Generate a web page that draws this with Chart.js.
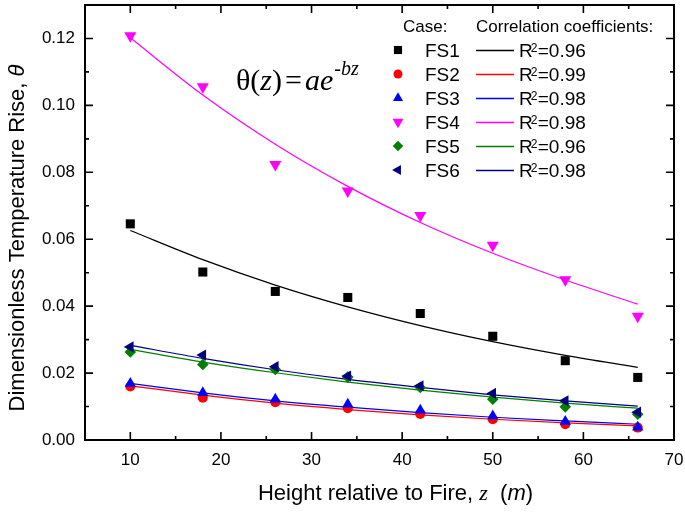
<!DOCTYPE html>
<html>
<head>
<meta charset="utf-8">
<script src="https://cdn.jsdelivr.net/npm/chart.js@4/dist/chart.umd.min.js"></script>
<style>
  html, body { margin: 0; padding: 0; background: #fff; }
  #wrap { width: 685px; height: 513px; }
</style>
</head>
<body>
<div id="wrap"><canvas id="chart" width="685" height="513"></canvas></div>
<script>
// measured heights above the fire source (m)
const heights = [10, 18, 26, 34, 42, 50, 58, 66];

// dimensionless temperature rise per case
const fs1 = [0.0646, 0.0502, 0.0444, 0.0426, 0.0378, 0.0310, 0.0237, 0.0187];
const fs2 = [0.0160, 0.0126, 0.0113, 0.0095, 0.0078, 0.0062, 0.0047, 0.0037];
const fs3 = [0.0169, 0.0141, 0.0122, 0.0107, 0.0089, 0.0072, 0.0055, 0.0038];
const fs4 = [0.1208, 0.1056, 0.0823, 0.0744, 0.0671, 0.0582, 0.0479, 0.0370];
const fs5 = [0.0263, 0.0226, 0.0211, 0.0188, 0.0157, 0.0122, 0.0099, 0.0077];
const fs6 = [0.0278, 0.0254, 0.0219, 0.0191, 0.0162, 0.0139, 0.0117, 0.0083];

// exponential fit curves theta = a*exp(-b*z), sampled at the same heights
const fit1 = [0.0626, 0.0539, 0.0463, 0.0398, 0.0342, 0.0294, 0.0253, 0.0217];
const fit2 = [0.0162, 0.0134, 0.0110, 0.0091, 0.0075, 0.0062, 0.0051, 0.0042];
const fit3 = [0.0169, 0.0141, 0.0117, 0.0098, 0.0082, 0.0068, 0.0057, 0.0047];
const fit4 = [0.1202, 0.1031, 0.0884, 0.0758, 0.0650, 0.0558, 0.0478, 0.0406];
const fit5 = [0.0271, 0.0233, 0.0201, 0.0173, 0.0149, 0.0128, 0.0110, 0.0095];
const fit6 = [0.0283, 0.0244, 0.0210, 0.0181, 0.0157, 0.0135, 0.0117, 0.0101];

const caseNames = ['FS1', 'FS2', 'FS3', 'FS4', 'FS5', 'FS6'];
const r2Values = ['0.96', '0.99', '0.98', '0.98', '0.96', '0.98'];

const measured = [fs1, fs2, fs3, fs4, fs5, fs6];
const fitted = [fit1, fit2, fit3, fit4, fit5, fit6];

// marker look per case
const markers = [
  { color: '#000000', pointStyle: 'rect', rotation: 0, radius: 6.4 },
  { color: '#ff0000', pointStyle: 'circle', rotation: 0, radius: 5 },
  { color: '#0000ff', pointStyle: 'triangle', rotation: 0, radius: 6.5 },
  { color: '#ff00ff', pointStyle: 'triangle', rotation: 180, radius: 7 },
  { color: '#008000', pointStyle: 'rectRot', rotation: 0, radius: 5.8 },
  { color: '#000080', pointStyle: 'triangle', rotation: -90, radius: 6.5 },
];

// plot frame inside the 685x513 canvas
const FRAME = { left: 85, top: 5, right: 674, bottom: 440 };

const SANS = '"Liberation Sans", Arial, sans-serif';
const SERIF = '"Liberation Serif", "Times New Roman", serif';

const toPoints = arr => arr.map((v, i) => ({ x: heights[i], y: v }));

const datasets = [];
fitted.forEach((arr, i) => {
  datasets.push({
    label: caseNames[i] + ' fit',
    data: toPoints(arr),
    borderColor: markers[i].color,
    borderWidth: 1.2,
    pointRadius: 0,
    showLine: true,
    fill: false,
    cubicInterpolationMode: 'monotone',
    order: 20 + i,
  });
});
measured.forEach((arr, i) => {
  const m = markers[i];
  datasets.push({
    label: caseNames[i],
    data: toPoints(arr),
    showLine: false,
    backgroundColor: m.color,
    borderColor: m.color,
    borderWidth: 0,
    pointStyle: m.pointStyle,
    rotation: m.rotation,
    pointRadius: m.radius,
    pointHoverRadius: m.radius,
    order: 10 - i,
  });
});

// draws one run of mixed-font text pieces starting at x
function drawRuns(ctx, runs, x, y) {
  runs.forEach(r => {
    x += r.gap || 0;
    ctx.font = r.font;
    ctx.fillText(r.text, x, y + (r.dy || 0));
    x += ctx.measureText(r.text).width;
  });
  return x;
}

function runsWidth(ctx, runs) {
  let w = 0;
  runs.forEach(r => {
    ctx.font = r.font;
    w += (r.gap || 0) + ctx.measureText(r.text).width;
  });
  return w;
}

// pin the plot area so the axes line up with the frame
const pinArea = {
  id: 'pinArea',
  afterLayout(chart) {
    const f = FRAME;
    const xs = chart.scales.x, ys = chart.scales.y;
    Object.assign(chart.chartArea, f, { width: f.right - f.left, height: f.bottom - f.top });
    Object.assign(xs, { left: f.left, right: f.right, width: f.right - f.left, top: f.bottom, bottom: 513, height: 513 - f.bottom });
    Object.assign(ys, { left: 0, right: f.left, width: f.left, top: f.top, bottom: f.bottom, height: f.bottom - f.top });
    xs.configure();
    ys.configure();
  },
};

const decorations = {
  id: 'decorations',
  afterDraw(chart) {
    const { ctx, chartArea: a, scales } = chart;
    const xs = scales.x, ys = scales.y;
    ctx.save();
    ctx.strokeStyle = '#000';
    ctx.fillStyle = '#000';

    // frame
    ctx.lineWidth = 2;
    ctx.strokeRect(a.left, a.top, a.right - a.left, a.bottom - a.top);

    // inward tick marks on all four sides
    ctx.lineWidth = 1.6;
    ctx.beginPath();
    xs.ticks.forEach(t => {
      const px = xs.getPixelForValue(t.value);
      const len = Math.round(t.value) % 10 === 0 ? 8 : 4;
      ctx.moveTo(px, a.bottom); ctx.lineTo(px, a.bottom - len);
      ctx.moveTo(px, a.top); ctx.lineTo(px, a.top + len);
    });
    ys.ticks.forEach(t => {
      const py = ys.getPixelForValue(t.value);
      const len = Math.round(t.value * 100) % 2 === 0 ? 8 : 4;
      ctx.moveTo(a.left, py); ctx.lineTo(a.left + len, py);
      ctx.moveTo(a.right, py); ctx.lineTo(a.right - len, py);
    });
    ctx.stroke();

    // x tick labels (every 10 m, including the right end)
    ctx.font = '17px ' + SANS;
    ctx.textAlign = 'center';
    ctx.textBaseline = 'alphabetic';
    xs.ticks.forEach(t => {
      const v = Math.round(t.value);
      if (v % 10 !== 0) return;
      ctx.fillText(String(v), xs.getPixelForValue(t.value), a.bottom + 25);
    });

    // axis titles
    ctx.textAlign = 'left';
    const xRuns = [
      { text: 'Height relative to Fire, ', font: '22px ' + SANS },
      { text: 'z', font: 'italic 22px ' + SERIF },
      { text: '  (', font: '22px ' + SANS },
      { text: 'm', font: 'italic 22px ' + SANS },
      { text: ')', font: '22px ' + SANS },
    ];
    const xw = runsWidth(ctx, xRuns);
    drawRuns(ctx, xRuns, (a.left + a.right) / 2 + 16 - xw / 2, 500);

    const yRuns = [
      { text: 'Dimensionless Temperature Rise, ', font: '22px ' + SANS },
      { text: '\u03b8', font: 'italic 22px ' + SANS },
    ];
    const yw = runsWidth(ctx, yRuns);
    ctx.save();
    ctx.translate(24, 238);
    ctx.rotate(-Math.PI / 2);
    drawRuns(ctx, yRuns, -yw / 2, 0);
    ctx.restore();

    // fit equation
    drawRuns(ctx, [
      { text: '\u03b8', font: '30px ' + SERIF },
      { text: '(', font: '30px ' + SERIF },
      { text: 'z', font: 'italic 30px ' + SERIF },
      { text: ')', font: '30px ' + SERIF },
      { text: '=', font: '30px ' + SERIF, gap: 3 },
      { text: 'a', font: 'italic 30px ' + SERIF, gap: 3 },
      { text: 'e', font: 'italic 30px ' + SERIF },
      { text: '-bz', font: 'italic 20px ' + SERIF, dy: -15, gap: 1 },
    ], 236, 90);

    // legend: markers with case names, fit lines with R^2
    ctx.font = '17px ' + SANS;
    ctx.fillText('Case:', 403, 32);
    ctx.fillText('Correlation coefficients:', 476, 32);
    caseNames.forEach((name, i) => {
      const m = markers[i];
      const cy = 50 + i * 24;
      ctx.fillStyle = m.color;
      ctx.strokeStyle = m.color;
      Chart.helpers.drawPoint(ctx, {
        pointStyle: m.pointStyle, rotation: m.rotation,
        radius: m.radius * 0.9, borderWidth: 0,
      }, 398, cy);
      ctx.lineWidth = 1.5;
      ctx.beginPath();
      ctx.moveTo(476, cy + 0.5);
      ctx.lineTo(514, cy + 0.5);
      ctx.stroke();

      ctx.fillStyle = '#000';
      ctx.font = '19px ' + SANS;
      ctx.fillText(name, 425, cy + 7);
      ctx.fillText('R', 519, cy + 7);
      const rw = ctx.measureText('R').width;
      ctx.font = '12px ' + SANS;
      ctx.fillText('2', 519 + rw - 2, cy + 2);
      ctx.font = '19px ' + SANS;
      ctx.fillText('=' + r2Values[i], 519 + rw + 5, cy + 7);
    });
    ctx.restore();
  },
};

new Chart(document.getElementById('chart'), {
  type: 'scatter',
  data: { datasets },
  options: {
    responsive: false,
    animation: false,
    devicePixelRatio: 1,
    layout: { padding: 0 },
    plugins: {
      legend: { display: false },
      tooltip: { enabled: false },
    },
    scales: {
      x: {
        type: 'linear',
        min: 5,
        max: 70,
        grid: { display: false, drawTicks: false },
        border: { display: false },
        ticks: {
          display: false,
          stepSize: 5,
          maxTicksLimit: 100,
          autoSkip: false,
        },
      },
      y: {
        type: 'linear',
        min: 0,
        max: 0.13,
        grid: { display: false, drawTicks: false },
        border: { display: false },
        ticks: {
          stepSize: 0.01,
          maxTicksLimit: 100,
          autoSkip: false,
          padding: 10,
          color: '#000',
          font: { family: SANS, size: 17 },
          callback: v => (Math.round(v * 100) % 2 === 0 ? v.toFixed(2) : ''),
        },
      },
    },
  },
  plugins: [pinArea, decorations],
});
</script>
</body>
</html>
